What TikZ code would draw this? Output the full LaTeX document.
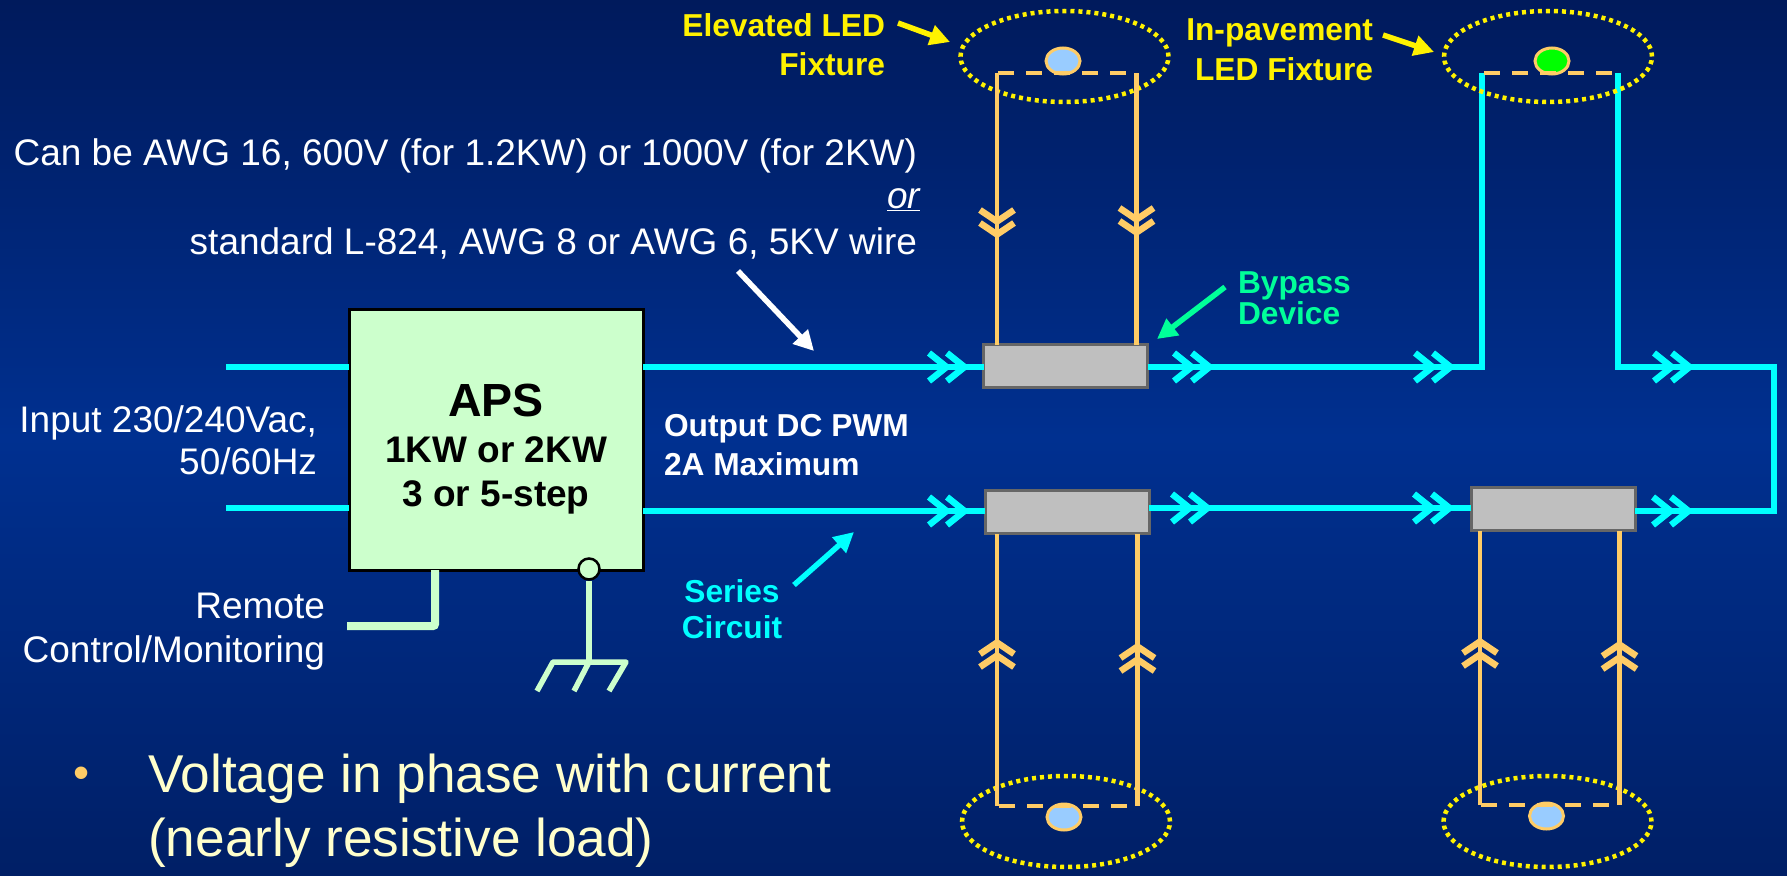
\documentclass[tikz,border=0pt]{standalone}
\usepackage{fontspec}
\setmainfont{Liberation Sans}
\usetikzlibrary{arrows.meta,shapes.geometric}
\definecolor{bgtop}{HTML}{001A5C}
\definecolor{bgmid}{HTML}{003090}
\definecolor{bgbot}{HTML}{001F66}
\definecolor{cyanw}{HTML}{00FFFF}
\definecolor{orangew}{HTML}{FFCC66}
\definecolor{mintg}{HTML}{CCFFCC}
\definecolor{byp}{HTML}{00FF99}
\definecolor{ledb}{HTML}{99CCFF}
\definecolor{ledg}{HTML}{00FF00}
\definecolor{ltyl}{HTML}{FFFFCC}
\newcommand{\fs}[1]{\fontsize{#1}{#1}\selectfont}
\tikzset{
  x=1pt,y=-1pt,
  cyw/.style={draw=cyanw,line width=5.5pt,line join=miter},
  orw/.style={draw=orangew,line width=4.2pt},
  dashw/.style={draw=orangew,line width=4.5pt,dash pattern=on 16pt off 12pt},
  chevc/.style={draw=cyanw,line width=6.5pt,line join=miter},
  chevo/.style={draw=orangew,line width=6.5pt,line join=miter},
  mintw/.style={draw=mintg,line width=5.5pt},
  bypass/.style={draw=black!60,fill=black!25,line width=3pt,minimum width=164pt,minimum height=43pt,inner sep=0pt,outer sep=0pt},
  halo/.style={ellipse,draw=yellow,line width=4.5pt,dash pattern=on 4pt off 4pt,minimum width=208pt,minimum height=91pt,inner sep=0pt},
  led/.style={ellipse,draw=orangew,line width=3pt,minimum width=34pt,minimum height=26pt,inner sep=0pt},
  callout/.style={line width=5.5pt,-{Triangle[length=20pt,width=20pt]}},
  txt/.style={inner sep=0pt,outer sep=0pt,text=white,font=\fs{37}},
  hd/.style={inner sep=0pt,outer sep=0pt,font=\fs{31.7}\bfseries},
}
% horizontal double chevron, outer tip of the second at x
\newcommand{\chH}[2]{%
  \draw[chevc] (#1-21,#2-14) -- (#1-3.5,#2) -- (#1-21,#2+14);
  \draw[chevc] (#1-39,#2-14) -- (#1-21.5,#2) -- (#1-39,#2+14);}
% vertical double chevrons: down / up, outer tip of the lead chevron at y
\newcommand{\chD}[2]{%
  \draw[chevo] (#1-17,#2-15) -- (#1,#2-3.5) -- (#1+17,#2-15);
  \draw[chevo] (#1-17,#2-28) -- (#1,#2-16.5) -- (#1+17,#2-28);}
\newcommand{\chU}[2]{%
  \draw[chevo] (#1-17,#2+15) -- (#1,#2+3.5) -- (#1+17,#2+15);
  \draw[chevo] (#1-17,#2+28) -- (#1,#2+16.5) -- (#1+17,#2+28);}
\begin{document}
\begin{tikzpicture}
\useasboundingbox (0,0) rectangle (1787,875);
\shade[top color=bgtop,bottom color=bgbot,middle color=bgmid] (0,0) rectangle (1787,875);

% main nodes
\node[draw=black,fill=mintg,line width=3pt,minimum width=294pt,minimum height=261pt,inner sep=0pt,outer sep=0pt] (aps) at (496,439.5) {};
\node[bypass] (b1) at (1065.5,366) {};
\node[bypass] (b2) at (1067,512) {};
\node[bypass] (b3) at (1553,509) {};

\coordinate (inA) at (226,367);
\coordinate (inB) at (226,508);
\coordinate (lineT) at (0,367);
\coordinate (lineB) at (0,511);
\coordinate (lineM) at (0,508);
\coordinate (riseL) at (1482,367);
\coordinate (riseR) at (1618,367);
\coordinate (riseLt) at (1482,73);
\coordinate (riseRt) at (1618,73);
\coordinate (cornT) at (1774,367);
\coordinate (cornB) at (1774,511);

% series circuit
\draw[cyw] (inA) -- (inA -| aps.west);
\draw[cyw] (inB) -- (inB -| aps.west);
\draw[cyw] (aps.east |- lineT) -- (b1.west |- lineT);
\draw[cyw] (aps.east |- lineB) -- (b2.west |- lineB);
\draw[cyw] (b1.east |- lineT) -- (riseL) -- (riseLt);
\draw[cyw] (riseRt) -- (riseR) -- (cornT) -- (cornB) -- (b3.east |- lineB);
\draw[cyw] (b3.west |- lineM) -- (b2.east |- lineM);
\chH{968}{367}
\chH{1213}{367}
\chH{1454}{367}
\chH{1693}{367}
\chH{968}{511}
\chH{1211}{508}
\chH{1453}{508}
\chH{1692}{511}

% halos and LEDs
\node[halo] (h1) at (1064.5,56.5) {};
\node[halo] (h2) at (1548,56.5) {};
\node[halo] (h3) at (1066,821.5) {};
\node[halo] (h4) at (1547.5,821.5) {};
\node[led,fill=ledb] (l1) at (1063,61) {};
\node[led,fill=ledg] (l2) at (1552,61) {};
\node[led,fill=ledb] (l3) at (1064,817) {};
\node[led,fill=ledb] (l4) at (1546.5,816) {};

% fixture tails
\coordinate (t1) at (997,73); \coordinate (t2) at (1136.5,73);
\coordinate (t3) at (997,806); \coordinate (t4) at (1137.5,806);
\coordinate (t5) at (1480,805); \coordinate (t6) at (1619.5,805);
\draw[orw] (t1) -- (t1 |- b1.north);
\draw[orw] (t2) -- (t2 |- b1.north);
\draw[orw] (t3) -- (t3 |- b2.south);
\draw[orw] (t4) -- (t4 |- b2.south);
\draw[orw] (t5) -- (t5 |- b3.south);
\draw[orw] (t6) -- (t6 |- b3.south);
\draw[dashw] (998,73) -- (t2);
\draw[dashw] (1484,73) -- (1616,73);
\draw[dashw] (999,806) -- (t4);
\draw[dashw] (1481,805) -- (1618,805);
\chD{997}{238}
\chD{1136.5}{236}
\chU{997}{639}
\chU{1137.5}{643}
\chU{1480}{638}
\chU{1619.5}{641}

% remote and ground
\coordinate (rm) at (347,626);
\draw[draw=mintg,line width=8pt,rounded corners=2pt] (aps.south -| 435,0) -- (435,626) -- (rm);
\node[circle,draw=black,fill=mintg,line width=2.5pt,minimum size=21pt,inner sep=0pt] (gnd) at (589,569) {};
\coordinate (gb) at (589,662);
\draw[mintw] (gnd) -- (gb);
\draw[mintw,line join=round] (537,691) -- (553,662) -- (626,662) -- (609,691);
\draw[mintw] (gb) -- (574,691);

% callout arrows
\draw[callout,white] (738,271) -- (814,351);
\draw[callout,byp] (1225,287) -- (1157,339);
\draw[callout,yellow] (898,23) -- (950,42);
\draw[callout,yellow] (1383,35) -- (1434,52);
\draw[callout,cyanw] (794,585) -- (854,532);

% texts
\node[txt,anchor=base east] (t-a) at (917,165) {Can be AWG 16, 600V (for 1.2KW) or 1000V (for 2KW)};
\node[txt,anchor=base east] (t-b) at (920,208) {\itshape\underline{or}};
\node[txt,anchor=base east] (t-c) at (917,254) {standard L-824, AWG 8 or AWG 6, 5KV wire};
\node[txt,anchor=base east] (t-d) at (317,432) {Input 230/240Vac,};
\node[txt,anchor=base east] (t-e) at (317,474) {50/60Hz};
\node[txt,anchor=base east] (t-f) at (325,618) {Remote};
\node[txt,anchor=base east] (t-g) at (325,662) {Control/Monitoring};
\node[inner sep=0pt,font=\fs{46.5}\bfseries,text=black,anchor=base] (t-h) at (496,416) {APS};
\node[inner sep=0pt,font=\fs{37}\bfseries,text=black,anchor=base] (t-i) at (496,462) {1KW or 2KW};
\node[inner sep=0pt,font=\fs{37}\bfseries,text=black,anchor=base] (t-j) at (496,506) {3 or 5-step};
\node[hd,text=white,anchor=base west] (t-k) at (664,436) {Output DC PWM};
\node[hd,text=white,anchor=base west] (t-l) at (664,475) {2A Maximum};
\node[hd,text=cyanw,anchor=base] (t-m) at (732,602) {Series};
\node[hd,text=cyanw,anchor=base] (t-n) at (732,638) {Circuit};
\node[hd,text=byp,anchor=base west] (t-o) at (1238,293) {Bypass};
\node[hd,text=byp,anchor=base west] (t-p) at (1238,324) {Device};
\node[hd,text=yellow,anchor=base east] (t-q) at (885,37) {Elevated LED};
\node[hd,text=yellow,anchor=base east] (t-r) at (885,75) {Fixture};
\node[hd,text=yellow,anchor=base east] (t-s) at (1373,41) {In-pavement};
\node[hd,text=yellow,anchor=base east] (t-t) at (1373,80) {LED Fixture};
\node[inner sep=0pt,font=\fs{46},text=orangew,anchor=base] (t-u) at (82,788) {•};
\node[inner sep=0pt,font=\fs{53.2},text=ltyl,anchor=base west] (t-v) at (148,792) {Voltage in phase with current};
\node[inner sep=0pt,font=\fs{53.2},text=ltyl,anchor=base west] (t-w) at (148,856) {(nearly resistive load)};
\end{tikzpicture}
\end{document}
